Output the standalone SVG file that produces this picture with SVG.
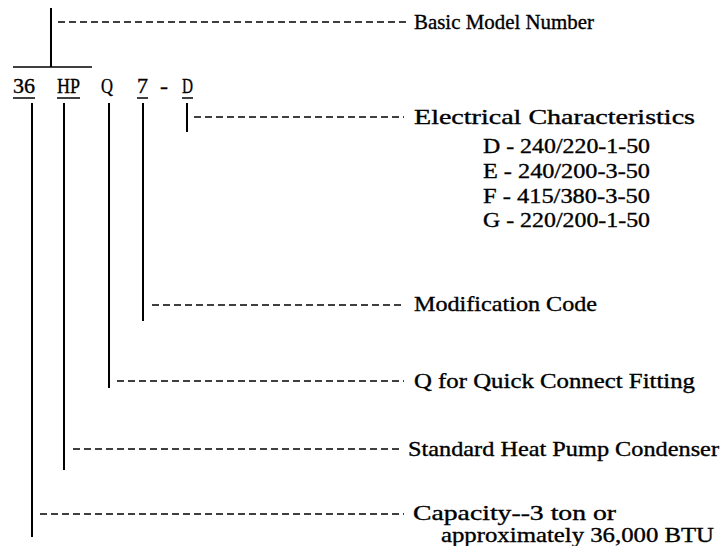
<svg xmlns="http://www.w3.org/2000/svg" width="725" height="546" viewBox="0 0 725 546">
<style>
text{font-family:"Liberation Serif","DejaVu Serif",serif;font-size:21px;fill:#000;stroke:#000;stroke-width:0.35}
.v{stroke:#000;stroke-width:2;fill:none}
.d{stroke:#000;stroke-width:1.6;stroke-dasharray:7 4;fill:none}
.u{stroke:#000;stroke-width:1.5;fill:none}
</style>
<rect width="725" height="546" fill="#fff"/>
<g id="model-number">
<line class="v" x1="51" y1="8" x2="51" y2="67"/>
<line class="u" x1="13" y1="67" x2="92" y2="67"/>
<text x="13" y="93" font-size="22" textLength="22" lengthAdjust="spacingAndGlyphs">36</text>
<text x="57" y="93" font-size="22" textLength="23" lengthAdjust="spacingAndGlyphs">HP</text>
<text x="101" y="93" font-size="22" textLength="12" lengthAdjust="spacingAndGlyphs">Q</text>
<text x="137" y="93" font-size="22" textLength="11" lengthAdjust="spacingAndGlyphs">7</text>
<text x="160" y="93" font-size="22" textLength="8" lengthAdjust="spacingAndGlyphs">-</text>
<text x="182" y="93" font-size="22" textLength="11" lengthAdjust="spacingAndGlyphs">D</text>
<line class="u" x1="13" y1="98" x2="35" y2="98"/>
<line class="u" x1="57" y1="98" x2="80" y2="98"/>
<line class="u" x1="137" y1="98" x2="148" y2="98"/>
<line class="u" x1="182" y1="98" x2="193" y2="98"/>
</g>
<g id="connectors">
<line class="d" x1="58" y1="22" x2="408" y2="22"/>
<line class="v" x1="187" y1="103" x2="187" y2="132"/>
<line class="d" x1="194" y1="117" x2="404" y2="117"/>
<line class="v" x1="143" y1="103" x2="143" y2="321"/>
<line class="d" x1="152" y1="305" x2="404" y2="305"/>
<line class="v" x1="109" y1="103" x2="109" y2="388"/>
<line class="d" x1="117" y1="381" x2="404" y2="381"/>
<line class="v" x1="64" y1="103" x2="64" y2="470"/>
<line class="d" x1="73" y1="449" x2="400" y2="449"/>
<line class="v" x1="32" y1="103" x2="32" y2="537"/>
<line class="d" x1="40" y1="514" x2="404" y2="514"/>
</g>
<g id="basic">
<text x="414" y="29" textLength="180" lengthAdjust="spacingAndGlyphs">Basic Model Number</text>
</g>
<g id="electrical">
<text x="414" y="124" textLength="281" lengthAdjust="spacingAndGlyphs">Electrical Characteristics</text>
<text x="483" y="153" textLength="167" lengthAdjust="spacingAndGlyphs">D - 240/220-1-50</text>
<text x="483" y="178" textLength="167" lengthAdjust="spacingAndGlyphs">E - 240/200-3-50</text>
<text x="483" y="203" textLength="167" lengthAdjust="spacingAndGlyphs">F - 415/380-3-50</text>
<text x="483" y="227" textLength="167" lengthAdjust="spacingAndGlyphs">G - 220/200-1-50</text>
</g>
<g id="modification">
<text x="414" y="311" textLength="183" lengthAdjust="spacingAndGlyphs">Modification Code</text>
</g>
<g id="quick-connect">
<text x="414" y="388" textLength="281" lengthAdjust="spacingAndGlyphs">Q for Quick Connect Fitting</text>
</g>
<g id="heat-pump">
<text x="408" y="456" textLength="311" lengthAdjust="spacingAndGlyphs">Standard Heat Pump Condenser</text>
</g>
<g id="capacity">
<text x="413" y="520" textLength="203" lengthAdjust="spacingAndGlyphs">Capacity--3 ton or</text>
<text x="441" y="542" textLength="273" lengthAdjust="spacingAndGlyphs">approximately 36,000 BTU</text>
</g>
</svg>
